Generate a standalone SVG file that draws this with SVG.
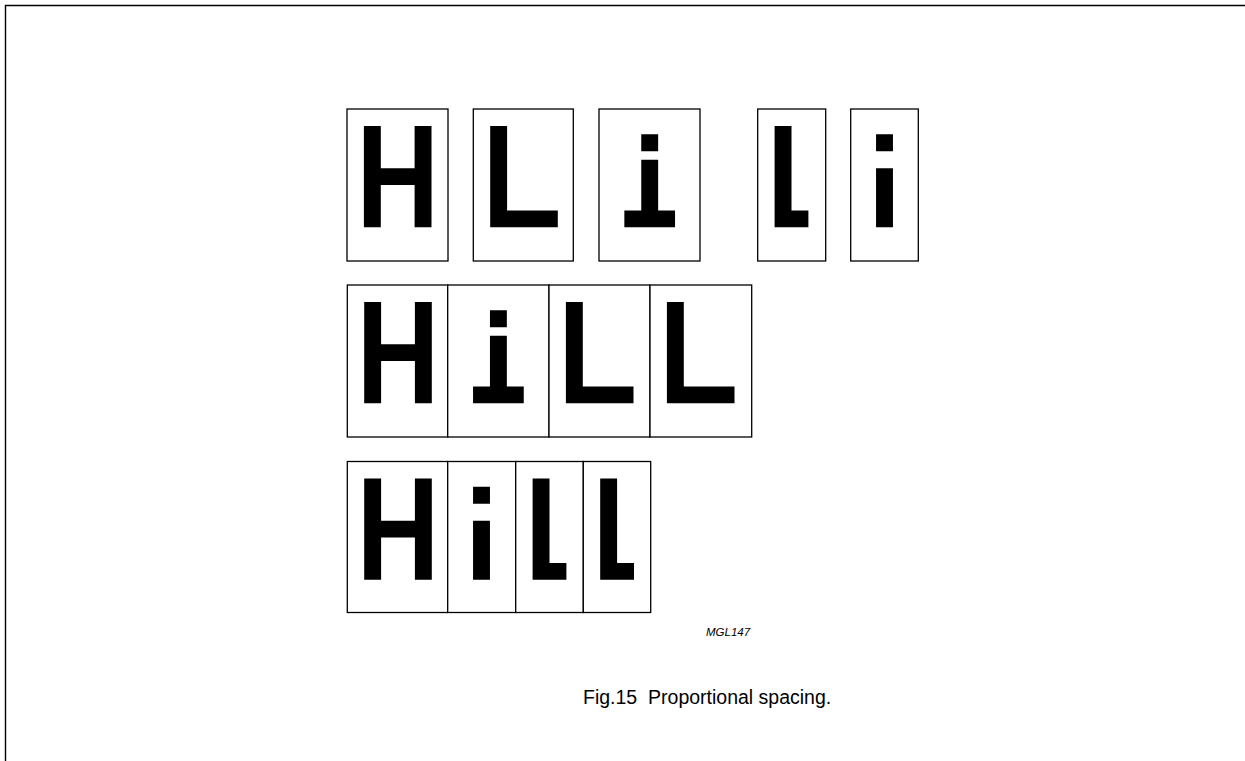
<svg xmlns="http://www.w3.org/2000/svg" xmlns:xlink="http://www.w3.org/1999/xlink" width="1245" height="761" viewBox="0 0 1245 761">
<style>
.frame{fill:none;stroke:#000;stroke-width:1.4}
.box{fill:#fff;stroke:#000;stroke-width:1.3}
.px{fill:#000}
.cap{font-family:"Liberation Sans",Arial,sans-serif;font-size:19.5px;fill:#000}
.code{font-family:"Liberation Sans",Arial,sans-serif;font-size:11.5px;font-style:italic;fill:#000}
</style>
<defs>
<path id="gH" class="px" d="M2,2h2v5h4v-5h2v12h-2v-5h-4v5h-2z"/>
<path id="gL" class="px" d="M2,2h2v10h6v2h-8z"/>
<path id="gi" class="px" d="M5,3h2v2h-2z M5,6h2v6h2v2h-6v-2h2z"/>
<path id="gl2" class="px" d="M2,2h2v10h2v2h-4z"/>
<path id="gi2" class="px" d="M3,3h2v2h-2z M3,7h2v7h-2z"/>
</defs>
<path class="frame" d="M5.5,761 V5.5 H1245"/>
<g id="connectors"/>
<!-- Row 1: fixed and proportional single characters -->
<g id="r1-H"><rect class="box" x="347" y="109" width="101" height="152"/><use xlink:href="#gH" transform="translate(347,109) scale(8.45)"/></g>
<g id="r1-L"><rect class="box" x="473.3" y="109" width="100" height="152"/><use xlink:href="#gL" transform="translate(473.3,109) scale(8.45)"/></g>
<g id="r1-i"><rect class="box" x="599" y="109" width="101" height="152"/><use xlink:href="#gi" transform="translate(599,109) scale(8.45)"/></g>
<g id="r1-l"><rect class="box" x="757.7" y="109" width="68" height="152"/><use xlink:href="#gl2" transform="translate(757.7,109) scale(8.45)"/></g>
<g id="r1-i2"><rect class="box" x="850.7" y="109" width="67.6" height="152"/><use xlink:href="#gi2" transform="translate(850.7,109) scale(8.45)"/></g>
<!-- Row 2: fixed spacing HiLL -->
<g id="r2-H"><rect class="box" x="347.3" y="285" width="100.4" height="152"/><use xlink:href="#gH" transform="translate(347.3,285) scale(8.45)"/></g>
<g id="r2-i"><rect class="box" x="447.7" y="285" width="101.3" height="152"/><use xlink:href="#gi" transform="translate(447.7,285) scale(8.45)"/></g>
<g id="r2-L1"><rect class="box" x="549" y="285" width="101" height="152"/><use xlink:href="#gL" transform="translate(549,285) scale(8.45)"/></g>
<g id="r2-L2"><rect class="box" x="650" y="285" width="101.7" height="152"/><use xlink:href="#gL" transform="translate(650,285) scale(8.45)"/></g>
<!-- Row 3: proportional spacing Hill -->
<g id="r3-H"><rect class="box" x="347.3" y="461.5" width="100.4" height="151"/><use xlink:href="#gH" transform="translate(347.3,461.5) scale(8.45)"/></g>
<g id="r3-i"><rect class="box" x="447.7" y="461.5" width="68" height="151"/><use xlink:href="#gi2" transform="translate(447.7,461.5) scale(8.45)"/></g>
<g id="r3-l1"><rect class="box" x="515.7" y="461.5" width="67.6" height="151"/><use xlink:href="#gl2" transform="translate(515.7,461.5) scale(8.45)"/></g>
<g id="r3-l2"><rect class="box" x="583.3" y="461.5" width="67.4" height="151"/><use xlink:href="#gl2" transform="translate(583.3,461.5) scale(8.45)"/></g>
<g id="labels">
<text class="code" x="706" y="636">MGL147</text>
<text class="cap" x="583" y="704" xml:space="preserve">Fig.15  Proportional spacing.</text>
</g>
</svg>
